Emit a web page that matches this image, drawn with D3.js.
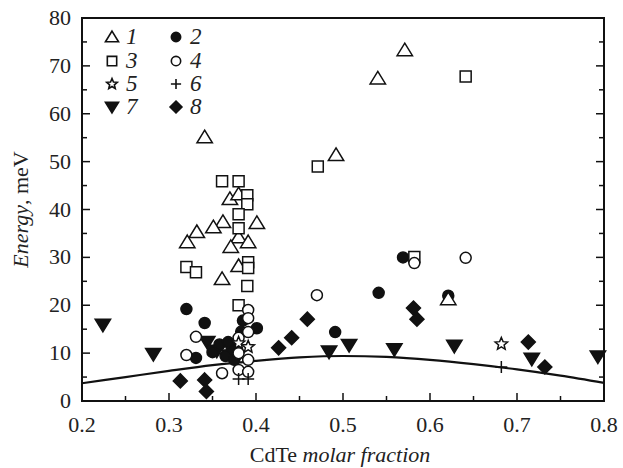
<!DOCTYPE html>
<html>
<head>
<meta charset="utf-8">
<script src="https://cdn.jsdelivr.net/npm/d3@7"></script>
<style>
  html, body { margin: 0; padding: 0; background: #fff; }
  svg text { font-family: "Liberation Serif", "Times New Roman", Times, serif; }
</style>
</head>
<body>
<div id="chart"></div>
<script>
'use strict';

const W = 623, H = 468;
const MARGIN = { top: 18, right: 19, bottom: 67, left: 82 };
const FONT = '"Liberation Serif", "Times New Roman", Times, serif';

// axis ticks
const xTicks = [0.2, 0.3, 0.4, 0.5, 0.6, 0.7, 0.8];
const xMinor = [0.25, 0.35, 0.45, 0.55, 0.65, 0.75];
const yTicks = [0, 10, 20, 30, 40, 50, 60, 70, 80];
const yMinor = [5, 15, 25, 35, 45, 55, 65, 75];

// series values: [CdTe fraction, energy meV]
const s1 = [[0.341, 55.1], [0.370, 42.2], [0.380, 43.2], [0.401, 37.2], [0.362, 37.4], [0.351, 36.3],
  [0.332, 35.3], [0.321, 33.2], [0.380, 34.2], [0.391, 33.2], [0.371, 32.2], [0.380, 28.2],
  [0.361, 25.5], [0.492, 51.4], [0.540, 67.4], [0.571, 73.3], [0.621, 21.3]];
const s3 = [[0.361, 45.9], [0.380, 45.9], [0.390, 43.0], [0.390, 41.1], [0.380, 39.0], [0.380, 36.1],
  [0.320, 28.0], [0.331, 26.9], [0.391, 29.0], [0.391, 27.8], [0.390, 24.0], [0.380, 20.0],
  [0.471, 49.0], [0.641, 67.8], [0.582, 30.1]];
const s2 = [[0.320, 19.2], [0.341, 16.3], [0.331, 9.0], [0.350, 10.2], [0.358, 11.8], [0.365, 9.4],
  [0.372, 11.2], [0.375, 8.6], [0.368, 12.3], [0.385, 16.8], [0.401, 15.2], [0.383, 14.5],
  [0.491, 14.4], [0.541, 22.6], [0.569, 30.0], [0.621, 22.0]];
const s4 = [[0.320, 9.6], [0.331, 13.4], [0.361, 5.8], [0.391, 19.0], [0.391, 17.3], [0.391, 14.4],
  [0.380, 13.2], [0.380, 10.0], [0.391, 8.6], [0.380, 6.5], [0.391, 6.1], [0.470, 22.1],
  [0.582, 28.8], [0.641, 29.9]];
const s5 = [[0.380, 12.1], [0.391, 11.3], [0.682, 11.9]];
const s6 = [[0.380, 4.6], [0.391, 4.6], [0.682, 7.1]];
const s7 = [[0.224, 15.9], [0.282, 9.8], [0.344, 12.3], [0.355, 10.5], [0.370, 9.5], [0.484, 10.3],
  [0.507, 11.7], [0.559, 10.8], [0.628, 11.5], [0.717, 8.8], [0.793, 9.3]];
const s8 = [[0.313, 4.2], [0.341, 4.4], [0.343, 2.0], [0.375, 9.0], [0.426, 11.1], [0.441, 13.2],
  [0.459, 17.1], [0.581, 19.4], [0.585, 17.1], [0.713, 12.3], [0.732, 7.1]];

// solid curve
const curve = [[0.2, 3.7], [0.25, 5.0], [0.3, 6.3], [0.35, 7.5], [0.4, 8.4], [0.45, 9.1], [0.5, 9.4],
  [0.55, 9.2], [0.6, 8.6], [0.65, 7.7], [0.7, 6.6], [0.75, 5.3], [0.8, 3.8]];

const seriesNames = ['1', '2', '3', '4', '5', '6', '7', '8'];

// marker path generators (r ~ half size)
const shapes = {
  triUp: r => `M0,${-r}L${r * 1.1},${r * 0.8}L${-r * 1.1},${r * 0.8}Z`,
  triDown: r => `M0,${r}L${r * 1.1},${-r * 0.8}L${-r * 1.1},${-r * 0.8}Z`,
  square: r => `M${-r},${-r}H${r}V${r}H${-r}Z`,
  circle: r => `M${r},0A${r},${r} 0 1,1 ${-r},0A${r},${r} 0 1,1 ${r},0Z`,
  diamond: r => `M0,${-r}L${r},0L0,${r}L${-r},0Z`,
  plus: r => `M${-r},0H${r}M0,${-r}V${r}`,
  star: r => {
    const pts = [];
    for (let i = 0; i < 10; i++) {
      const a = -Math.PI / 2 + i * Math.PI / 5;
      const rr = i % 2 ? r * 0.45 : r;
      pts.push([rr * Math.cos(a), rr * Math.sin(a)]);
    }
    return 'M' + pts.map(p => p.join(',')).join('L') + 'Z';
  },
};

const styles = {
  '1': { shape: 'triUp', r: 7, fill: '#fff' },
  '2': { shape: 'circle', r: 5.5, fill: '#111' },
  '3': { shape: 'square', r: 5.5, fill: '#fff' },
  '4': { shape: 'circle', r: 5.5, fill: '#fff' },
  '5': { shape: 'star', r: 6.5, fill: '#fff' },
  '6': { shape: 'plus', r: 6, fill: 'none' },
  '7': { shape: 'triDown', r: 7, fill: '#111' },
  '8': { shape: 'diamond', r: 7, fill: '#111' },
};

const seriesData = { '1': s1, '2': s2, '3': s3, '4': s4, '5': s5, '6': s6, '7': s7, '8': s8 };

const w = W - MARGIN.left - MARGIN.right;
const h = H - MARGIN.top - MARGIN.bottom;

const x = d3.scaleLinear().domain([0.2, 0.8]).range([0, w]);
const y = d3.scaleLinear().domain([0, 80]).range([h, 0]);

const svg = d3.select('#chart').append('svg').attr('width', W).attr('height', H);
const g = svg.append('g').attr('transform', `translate(${MARGIN.left},${MARGIN.top})`);

// curve
g.append('path')
  .datum(curve)
  .attr('fill', 'none')
  .attr('stroke', '#111')
  .attr('stroke-width', 2.2)
  .attr('d', d3.line().x(d => x(d[0])).y(d => y(d[1])).curve(d3.curveMonotoneX));

// markers
const drawOrder = ['7', '8', '2', '1', '3', '4', '5', '6'];
drawOrder.forEach(k => {
  const st = styles[k];
  g.append('g').selectAll('path')
    .data(seriesData[k])
    .join('path')
    .attr('transform', d => `translate(${x(d[0])},${y(d[1])})`)
    .attr('d', shapes[st.shape](st.r))
    .attr('fill', st.fill)
    .attr('stroke', '#111')
    .attr('stroke-width', 1.5)
    .attr('stroke-linejoin', 'miter');
});

// frame
g.append('rect')
  .attr('width', w).attr('height', h)
  .attr('fill', 'none').attr('stroke', '#111').attr('stroke-width', 2);

// ticks (inward)
const tk = g.append('g').attr('stroke', '#111').attr('stroke-width', 1.5);
xTicks.concat(xMinor).forEach(v => {
  const len = xTicks.includes(v) ? 8 : 5;
  tk.append('line').attr('x1', x(v)).attr('x2', x(v)).attr('y1', h).attr('y2', h - len);
});
yTicks.concat(yMinor).forEach(v => {
  const len = yTicks.includes(v) ? 8 : 5;
  tk.append('line').attr('x1', 0).attr('x2', len).attr('y1', y(v)).attr('y2', y(v));
  tk.append('line').attr('x1', w).attr('x2', w - len).attr('y1', y(v)).attr('y2', y(v));
});

// tick labels
g.append('g').selectAll('text')
  .data(xTicks).join('text')
  .attr('x', d => x(d)).attr('y', h + 31)
  .attr('text-anchor', 'middle')
  .attr('font-family', FONT)
  .attr('font-size', 22)
  .attr('fill', '#222')
  .text(d => d3.format('.1f')(d));

g.append('g').selectAll('text')
  .data(yTicks).join('text')
  .attr('x', -11).attr('y', d => y(d) + 7)
  .attr('text-anchor', 'end')
  .attr('font-family', FONT)
  .attr('font-size', 22)
  .attr('fill', '#222')
  .text(d => d);

// axis titles
const xt = svg.append('text')
  .attr('x', MARGIN.left + w / 2 - 3).attr('y', 462)
  .attr('text-anchor', 'middle').attr('font-family', FONT)
  .attr('font-size', 22).attr('fill', '#222');
xt.append('tspan').text('CdTe ');
xt.append('tspan').attr('font-style', 'italic').text('molar fraction');

const yt = svg.append('text')
  .attr('transform', `translate(28,${MARGIN.top + h / 2}) rotate(-90)`)
  .attr('text-anchor', 'middle').attr('font-family', FONT)
  .attr('font-size', 22).attr('fill', '#222');
yt.append('tspan').attr('font-style', 'italic').text('Energy');
yt.append('tspan').text(', meV');

// legend
const legCols = [112, 176];
const legRows = [37, 61, 84, 107];
const leg = svg.append('g');
seriesNames.forEach((k, i) => {
  const cx = legCols[i % 2], cy = legRows[Math.floor(i / 2)];
  const st = styles[k];
  leg.append('path')
    .attr('transform', `translate(${cx},${cy})`)
    .attr('d', shapes[st.shape](st.r * 0.85))
    .attr('fill', st.fill)
    .attr('stroke', '#111')
    .attr('stroke-width', 1.6);
  leg.append('text')
    .attr('x', cx + 14).attr('y', cy + 7)
    .attr('font-family', FONT)
    .attr('font-size', 23).attr('font-style', 'italic').attr('fill', '#222')
    .text(k);
});
</script>
</body>
</html>
